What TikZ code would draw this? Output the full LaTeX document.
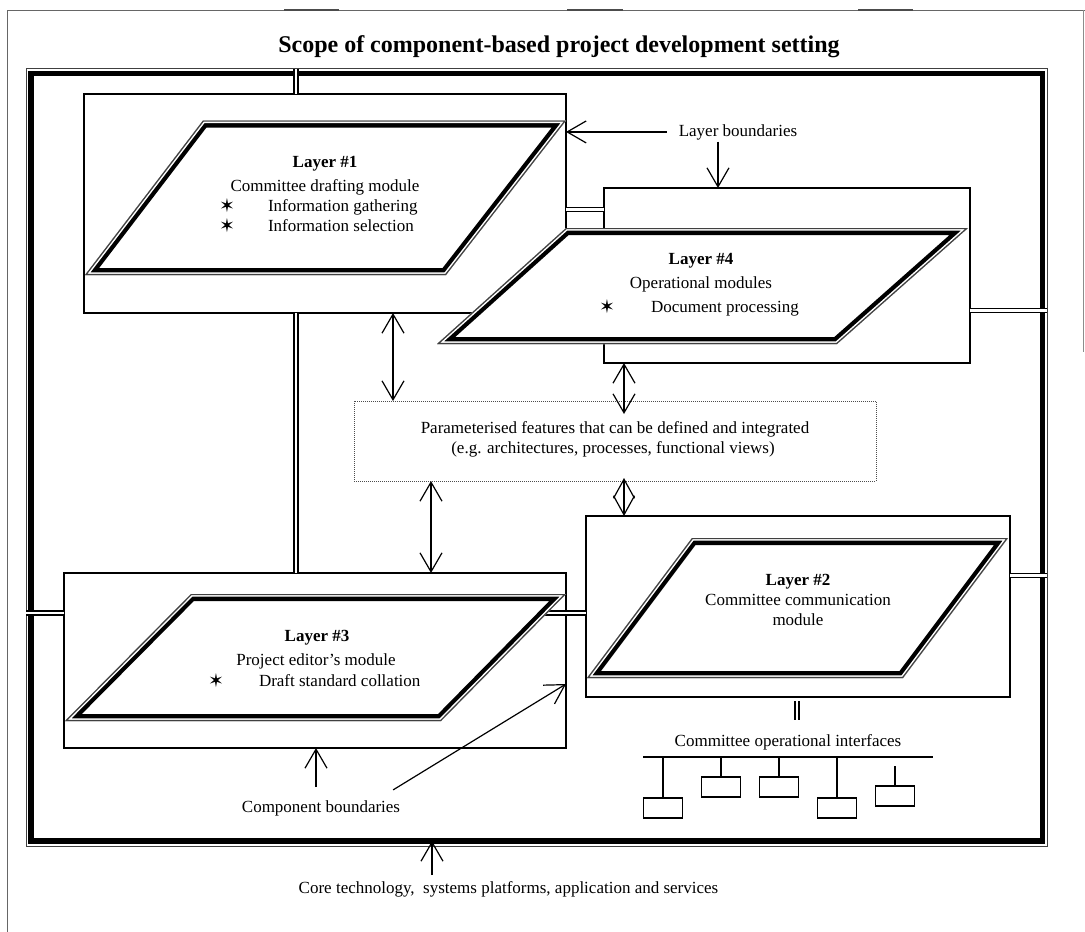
\documentclass[tikz,border=0pt]{standalone}
\usepackage{fontspec}
\setmainfont{Liberation Serif}
\newfontfamily\symfont{DejaVu Sans}
\usetikzlibrary{arrows.meta,calc}

% Parallelogram with a thin outer rule and a heavy inner rule
\newcommand\layerpara[4]{%
  \begin{scope}
    \fill[white] (#1) -- (#2) -- (#3) -- (#4) -- cycle;
    \clip (#1) -- (#2) -- (#3) -- (#4) -- cycle;
    \draw[line width=14pt, line join=miter] (#1) -- (#2) -- (#3) -- (#4) -- cycle;
    \draw[white, line width=5.4pt, line join=miter] (#1) -- (#2) -- (#3) -- (#4) -- cycle;
    \draw[black!75, line width=2.4pt, line join=miter] (#1) -- (#2) -- (#3) -- (#4) -- cycle;
  \end{scope}}

\tikzset{
  every node/.style={inner sep=0pt, outer sep=0pt},
  txt/.style={font=\fontsize{17}{20}\selectfont, anchor=base},
  bold/.style={font=\fontsize{17}{20}\selectfont\bfseries, anchor=base},
  starmark/.style={font=\symfont\fontsize{19}{20}\selectfont, anchor=base},
  compbox/.style={draw, line width=1.2pt, anchor=north west},
  pathway/.style={double, line width=1.4pt, double distance=2.5pt},
  pointer/.style={line width=1.2pt, -{Straight Barb[length=19pt,width=22pt]}},
  twoway/.style={line width=1.2pt, {Straight Barb[length=19pt,width=22pt]}-{Straight Barb[length=19pt,width=22pt]}},
  ifbox/.style={draw, line width=1.2pt, minimum width=39pt, minimum height=20pt, anchor=north},
  bus/.style={line width=1.2pt},
}

\begin{document}
\begin{tikzpicture}[x=1pt, y=-1pt]
\useasboundingbox (0,0) rectangle (1085,932);
\fill[white] (0,0) rectangle (1085,932);

% page rules
\draw[black!60, line width=1pt] (7,932) -- (7,10) -- (1085,10);
\draw[black!70, line width=2pt] (284,10) -- (339,10) (567,10) -- (623,10) (858,10) -- (913,10);
\draw[black!45, line width=1pt] (1083.5,10) -- (1083.5,352);

% title
\node[font=\fontsize{24}{28}\selectfont\bfseries, anchor=base] (title) at (559,52)
  {Scope of component-based project development setting};

% outer frame: heavy rule with a thin rule outside
\node[draw, line width=5.5pt, anchor=north west, minimum width=1011.5pt, minimum height=767.5pt] (frame) at (31,73.5) {};
\draw[black!75, line width=1pt] ($(frame.north west)+(-5,-4.7)$) rectangle ($(frame.south east)+(4.5,5)$);

% component boxes
\node[compbox, minimum width=482pt, minimum height=219pt] (box1) at (84,94) {};
\node[compbox, minimum width=366pt, minimum height=175pt] (box4) at (604,188) {};
\node[compbox, minimum width=502pt, minimum height=175pt] (box3) at (64,573) {};
\node[compbox, minimum width=424pt, minimum height=181pt] (box2) at (586,516) {};
\node[draw=black!70, line width=0.9pt, dash pattern=on 1pt off 1pt, anchor=north west,
      minimum width=522pt, minimum height=80pt] (params) at (354,401) {};

% double-rule links
\coordinate (colA) at (296,0);
\coordinate (topjoin) at (296,68.8);
\coordinate (row14) at (0,209.5);
\coordinate (row4f) at (1047,310.5);
\coordinate (row2f) at (1047,575.5);
\coordinate (row3f) at (26,613);
\coordinate (row3in) at (540,613);
\draw[pathway] (topjoin) -- (box1.north -| colA);
\draw[pathway] (box1.south -| colA) -- (box3.north -| colA);
\draw[pathway] (box1.east |- row14) -- (box4.west |- row14);
\draw[pathway] (box4.east |- row4f) -- (row4f);
\draw[pathway] (box2.east |- row2f) -- (row2f);
\draw[pathway] (row3f) -- (box3.west |- row3f);
\draw[pathway] (row3in) -- (box2.west |- row3in);

% boundary labels and pointers
\node[txt] (lbound) at (738,136) {Layer boundaries};
\coordinate (dn) at (718,0);
\draw[pointer] ([xshift=-12pt]lbound.west) -- (box1.east |- lbound.west);
\draw[pointer, shorten <=2pt] (lbound.south -| dn) -- (box4.north -| dn);

\node[txt] (cbound) at (321,812) {Component boundaries};
\coordinate (up1) at (316,0);
\coordinate (diagrow) at (0,684);
\draw[pointer, shorten <=13pt] (cbound.north -| up1) -- (box3.south -| up1);
\draw[pointer] ([shift={(-7,-18)}]cbound.east) -- (box3.east |- diagrow);

\node[txt] (core) at (508.5,893) {Core technology,\ \ systems platforms, application and services};
\coordinate (up2) at (432,0);
\draw[pointer, shorten <=6pt] (core.north -| up2) -- (frame.south -| up2);

% links to the parameterised features
\coordinate (a1) at (393,0);
\coordinate (a2) at (624,0);
\coordinate (a3) at (431,0);
\draw[twoway] (box1.south -| a1) -- (params.north -| a1);
\draw[twoway, shorten >=-13pt] (box4.south -| a2) -- (params.north -| a2);
\draw[twoway] (params.south -| a3) -- (box3.north -| a3);
\draw[line width=1.2pt, {Straight Barb[length=19pt,width=21pt]}-{Straight Barb[length=19pt,width=21pt]}, shorten <=-3pt]
  (params.south -| a2) -- (box2.north -| a2);

% layer parallelograms
\coordinate (p1a) at (203,120.5); \coordinate (p1b) at (566,120.5);
\coordinate (p1c) at (446,275);   \coordinate (p1d) at (85,275);
\coordinate (p4a) at (566,228);   \coordinate (p4b) at (968,228);
\coordinate (p4c) at (837,344);   \coordinate (p4d) at (437,344);
\coordinate (p3a) at (191,594);   \coordinate (p3b) at (566,594);
\coordinate (p3c) at (441,721);   \coordinate (p3d) at (65,721);
\coordinate (p2a) at (692,538);   \coordinate (p2b) at (1008,538);
\coordinate (p2c) at (903,678);   \coordinate (p2d) at (587,678);
\layerpara{p1a}{p1b}{p1c}{p1d}
\layerpara{p4a}{p4b}{p4c}{p4d}
\layerpara{p3a}{p3b}{p3c}{p3d}
\layerpara{p2a}{p2b}{p2c}{p2d}

% layer texts
\node[bold] (l1h) at (325,167) {Layer \#1};
\node[txt] (l1a) at (325,191) {Committee drafting module};
\node[starmark] (l1s1) at (227,212) {✶};
\node[txt, anchor=base west] (l1b) at (268,211) {Information gathering};
\node[starmark] (l1s2) at (227,232) {✶};
\node[txt, anchor=base west] (l1c) at (268,231) {Information selection};

\node[bold] (l4h) at (701,264) {Layer \#4};
\node[txt] (l4a) at (701,288) {Operational modules};
\node[starmark] (l4s) at (607,313) {✶};
\node[txt, anchor=base west] (l4b) at (651,312) {Document processing};

\node[bold] (l3h) at (317,641) {Layer \#3};
\node[txt] (l3a) at (316,665) {Project editor’s module};
\node[starmark] (l3s) at (216,687) {✶};
\node[txt, anchor=base west] (l3b) at (259,686) {Draft standard collation};

\node[bold] (l2h) at (798,585) {Layer \#2};
\node[txt] (l2a) at (798,605) {Committee communication};
\node[txt] (l2b) at (798,625) {module};

\node[txt] (pa) at (615,433) {Parameterised features that can be defined and integrated};
\node[txt] (pb) at (613,453) {(e.g. architectures, processes, functional views)};

% committee operational interfaces
\node[txt] (ifaces) at (788,746) {Committee operational interfaces};
\coordinate (bar) at (797,0);
\draw[double, line width=1.5pt, double distance=2.4pt, shorten <=4pt, shorten >=14pt]
  (box2.south -| bar) -- (ifaces.north -| bar);
\coordinate (busL) at (643,757);
\coordinate (busR) at (933,757);
\draw[bus] (busL) -- (busR);
\node[ifbox] (if1) at (663,798) {};
\node[ifbox] (if2) at (721,777) {};
\node[ifbox] (if3) at (779,777) {};
\node[ifbox] (if4) at (837,798) {};
\node[ifbox] (if5) at (895,786) {};
\coordinate (if5top) at (895,766);
\draw[bus] (if1.north) -- (if1.north |- busL);
\draw[bus] (if2.north) -- (if2.north |- busL);
\draw[bus] (if3.north) -- (if3.north |- busL);
\draw[bus] (if4.north) -- (if4.north |- busL);
\draw[bus] (if5.north) -- (if5top);
\end{tikzpicture}
\end{document}
